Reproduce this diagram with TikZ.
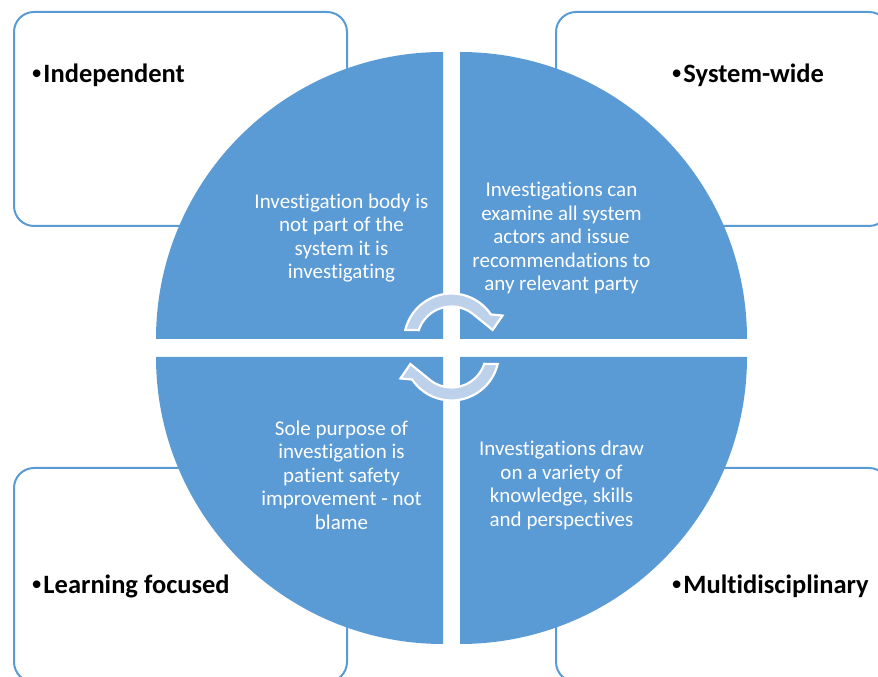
\documentclass[tikz,border=0pt]{standalone}
\usepackage{fontspec}
\setmainfont{Carlito}[Ligatures=NoCommon]
\newfontfamily\bulletfont{Liberation Sans}
\usetikzlibrary{positioning}
\definecolor{wheelblue}{RGB}{91,155,213}
\definecolor{cyclefill}{RGB}{190,209,234}
\newcommand{\dotmark}{{\bulletfont\bfseries •}\kern2pt}
\tikzset{
  cornerbox/.style={draw=wheelblue, line width=2pt, rounded corners=20pt, fill=white,
    minimum width=333pt, minimum height=214pt, inner sep=0pt},
  heading/.style={font=\fontsize{26.5}{30}\selectfont\bfseries, anchor=west, inner sep=0pt},
  quartertext/.style={text=white, align=center, font=\fontsize{21}{23.5}\selectfont, inner sep=0pt},
  quarter/.style={fill=wheelblue},
  cyclearrow/.style={fill=cyclefill, draw=white, line width=2.2pt},
  cyclearc/.pic={
    \filldraw[cyclearrow] (166.5:47.5) arc[start angle=166.5, end angle=34, radius=47.5]
      -- (26.5:57) -- (15:42.6) -- (53:34.5)
      arc[start angle=53, end angle=161.7, radius=34.5] -- cycle;
  }
}

\begin{document}
\begin{tikzpicture}[x=1pt, y=1pt]
\useasboundingbox (0,0) rectangle (878,677);
\clip (0,0) rectangle (878,677);

% corner boxes
\node[cornerbox] (boxTL) at (180.5,558) {};
\node[cornerbox] (boxTR) at (722.5,558) {};
\node[cornerbox] (boxBL) at (180.5,102) {};
\node[cornerbox] (boxBR) at (722.5,102) {};

\node[heading] (indep) at (32,602) {\dotmark Independent};
\node[heading] (sysw) at (672,602) {\dotmark System-wide};
\node[heading] (learn) at (32,91) {\dotmark Learning focused};
\node[heading] (multi) at (672,91) {\dotmark Multidisciplinary};

% the four quarters of the wheel
\foreach \cx/\cy/\a in {443/338/90, 460/338/0, 443/320/180, 460/320/270}
  \fill[quarter] (\cx,\cy) -- ++(\a:287) arc[start angle=\a, delta angle=90, radius=287] -- cycle;

\node[quartertext] (indepText) at (341.5,439) {Investigation body is\\not part of the\\system it is\\investigating};
\node[quartertext] (syswText) at (561.5,439) {Investigations can\\examine all system\\actors and issue\\recommendations to\\any relevant party};
\node[quartertext] (learnText) at (341.5,202) {Sole purpose of\\investigation is\\patient safety\\improvement - not\\blame};
\node[quartertext] (multiText) at (561.5,191.5) {Investigations draw\\on a variety of\\knowledge, skills\\and perspectives};

% turning arrows in the middle
\pic at (451.5,336) {cyclearc};
\pic[rotate=180] at (451.5,324) {cyclearc};
\end{tikzpicture}
\end{document}
